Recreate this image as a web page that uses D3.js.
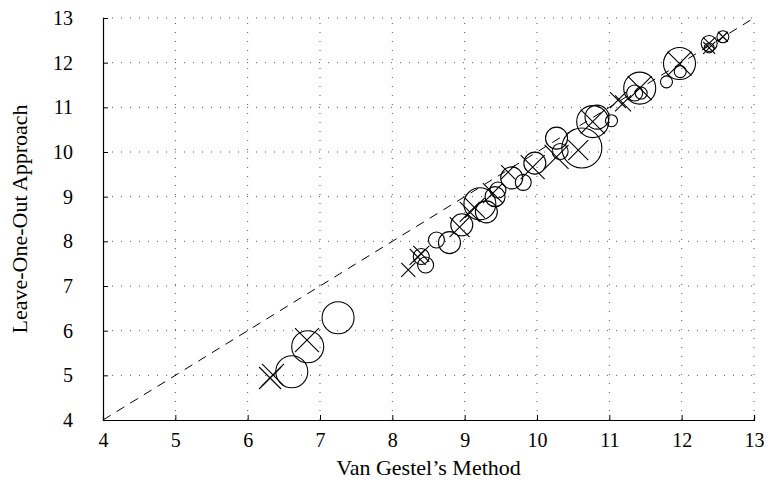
<!DOCTYPE html>
<html><head><meta charset="utf-8">
<script src="https://cdn.jsdelivr.net/npm/d3@7"></script>
<style>body{margin:0;background:#fff}svg{display:block}text{font-family:"Liberation Serif","Times New Roman",serif;fill:#000}</style>
</head><body>
<svg id="c" width="773" height="490"></svg>
<script>
// Circle series: x (Van Gestel), y (Leave-One-Out), w (marker weight)
const circX = [7.25,6.83,6.61,8.46,8.40,8.61,8.79,8.96,9.21,9.30,9.42,9.46,9.65,9.81,9.97,10.27,10.32,10.62,10.77,10.83,11.03,11.42,11.35,11.44,11.79,11.98,11.97,12.38,12.38,12.57];
const circY = [6.29,5.64,5.08,7.47,7.66,8.03,7.97,8.37,8.84,8.66,9.00,9.15,9.42,9.32,9.75,10.31,10.01,10.09,10.68,10.78,10.70,11.43,11.32,11.32,11.57,11.80,11.98,12.43,12.33,12.58];
const circW = [16,16,16,8,8,8,11,11,16,11,10,8,11,8,11,11,8,20,16,12,6,16,8,6,6,6,16,8,5,6];
// Cross series
const crossX = [6.31,6.35,6.82,8.22,8.35,8.40,8.93,9.07,9.14,9.39,9.60,9.94,10.27,10.57,10.77,11.12,11.19,11.42,11.97,12.38,12.38,12.57];
const crossY = [4.94,5.01,5.79,7.36,7.65,7.72,8.32,8.66,8.75,9.08,9.55,9.66,9.89,10.04,10.68,11.16,11.09,11.43,11.98,12.43,12.33,12.58];
const crossW = [11,11,12,7,8,8,10,10,10,10,7,12,12,10,12,8,8,12,12,6,6,5];
const ticks = [4,5,6,7,8,9,10,11,12,13];
const xTitle = "Van Gestel\u2019s Method";
const yTitle = "Leave-One-Out Approach";

const svg = d3.select("#c");
const L=103,R=754,T=18,B=420;
const x = d3.scaleLinear().domain([4,13]).range([L,R]);
const y = d3.scaleLinear().domain([4,13]).range([B,T]);
const sz = d3.scaleLinear().domain([0,20]).range([0,20]);

// grid
const g = svg.append("g");
g.selectAll(".vg").data(ticks.slice(1)).enter().append("line")
  .attr("x1",d=>x(d)).attr("x2",d=>x(d)).attr("y1",B).attr("y2",T)
  .attr("stroke","#555").attr("stroke-width",1).attr("stroke-dasharray","1,8");
g.selectAll(".hg").data(ticks.slice(1)).enter().append("line")
  .attr("y1",d=>y(d)).attr("y2",d=>y(d)).attr("x1",L).attr("x2",R)
  .attr("stroke","#555").attr("stroke-width",1).attr("stroke-dasharray","1,8");

// diagonal
svg.append("line").attr("x1",x(4)).attr("y1",y(4)).attr("x2",x(13)).attr("y2",y(13))
  .attr("stroke","#000").attr("stroke-width",1).attr("stroke-dasharray","9,7");

// axes
const xa = svg.append("g").attr("transform",`translate(0,${B})`)
  .call(d3.axisBottom(x).tickValues(ticks).tickSize(-5).tickPadding(13).tickFormat(d3.format("d")));
const ya = svg.append("g").attr("transform",`translate(${L},0)`)
  .call(d3.axisLeft(y).tickValues(ticks).tickSize(-5).tickPadding(30).tickFormat(d3.format("d")));
[xa,ya].forEach(a=>{
  a.select(".domain").attr("stroke","#000").attr("stroke-width",1.2);
  a.selectAll(".tick line").attr("stroke","#000");
  a.selectAll("text").style("font-family",'"Liberation Serif",serif').style("font-size","20px");
});

// markers
svg.append("g").selectAll("circle").data(circX.map((v,i)=>[v,circY[i],circW[i]])).enter()
  .append("circle").attr("cx",d=>x(d[0])).attr("cy",d=>y(d[1])).attr("r",d=>sz(d[2]))
  .attr("fill","none").attr("stroke","#000").attr("stroke-width",1.1);
svg.append("g").selectAll("path").data(crossX.map((v,i)=>[v,crossY[i],crossW[i]])).enter()
  .append("path").attr("d",d=>{const cx=x(d[0]),cy=y(d[1]),s=sz(d[2]);
    return `M${cx-s},${cy-s}L${cx+s},${cy+s}M${cx-s},${cy+s}L${cx+s},${cy-s}`;})
  .attr("fill","none").attr("stroke","#000").attr("stroke-width",1.1);

// titles
svg.append("text").attr("x",(L+R)/2).attr("y",475).attr("text-anchor","middle")
  .style("font-size","22px").text(xTitle);
svg.append("text").attr("transform",`translate(27,${(T+B)/2}) rotate(-90)`).attr("text-anchor","middle")
  .style("font-size","22px").text(yTitle);
</script>
</body></html>
